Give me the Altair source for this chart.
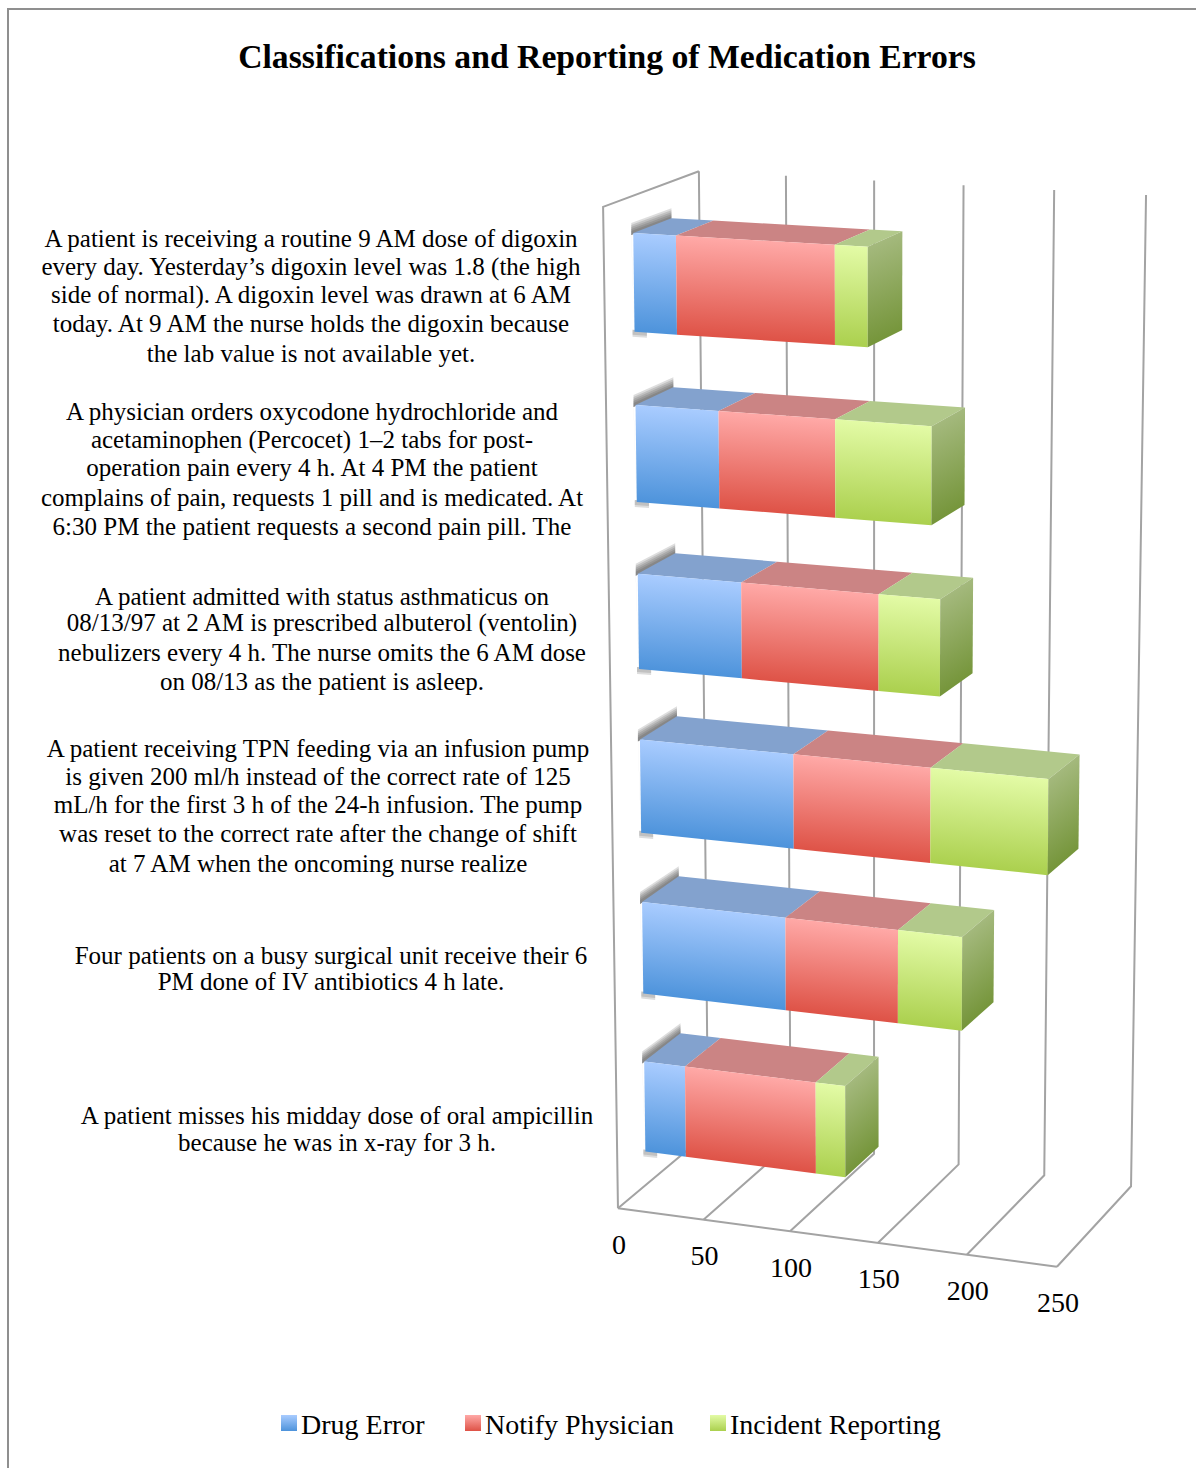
import altair as alt
import numpy as np
import pandas as pd

W, H = 1196, 1468
FONT = "Liberation Serif"

# Series values, in the order the bars run from the top of the chart downwards
DRUG_ERROR = [24, 47, 59, 88, 83, 24]
NOTIFY_PHYSICIAN = [88, 65, 77, 77, 64, 76]
INCIDENT_REPORTING = [18, 53, 34, 65, 36, 17]
SERIES_NAMES = ["Drug Error", "Notify Physician", "Incident Reporting"]
TICKS = [0, 50, 100, 150, 200, 250]

CATEGORY_LINES = [
    ["A patient is receiving a routine 9 AM dose of digoxin",
     "every day. Yesterday\u2019s digoxin level was 1.8 (the high",
     "side of normal). A digoxin level was drawn at 6 AM",
     "today. At 9 AM the nurse holds the digoxin because",
     "the lab value is not available yet."],
    ["A physician orders oxycodone hydrochloride and",
     "acetaminophen (Percocet) 1\u20132 tabs for post-",
     "operation pain every 4 h. At 4 PM the patient",
     "complains of pain, requests 1 pill and is medicated. At",
     "6:30 PM the patient requests a second pain pill. The"],
    ["A patient admitted with status asthmaticus on",
     "08/13/97 at 2 AM is prescribed albuterol (ventolin)",
     "nebulizers every 4 h. The nurse omits the 6 AM dose",
     "on 08/13 as the patient is asleep."],
    ["A patient receiving TPN feeding via an infusion pump",
     "is given 200 ml/h instead of the correct rate of 125",
     "mL/h for the first 3 h of the 24-h infusion. The pump",
     "was reset to the correct rate after the change of shift",
     "at 7 AM when the oncoming nurse realize"],
    ["Four patients on a busy surgical unit receive their 6",
     "PM done of IV antibiotics 4 h late."],
    ["A patient misses his midday dose of oral ampicillin",
     "because he was in x-ray for 3 h."],
]

# Layout of the category text: centre x and the y of every line
LABEL_CENTRES = [311, 312, 322, 318, 331, 337]
LABEL_ROWS = [
    [239, 267, 295, 324, 354],
    [412, 440, 468, 498, 527],
    [597, 623, 653, 682],
    [749, 777, 805, 834, 864],
    [956, 982],
    [1116, 1143],
]

# Screen positions of the chart box corners: (value, category height, depth) -> (px, py)
BOX_CORNERS = [
    ((0, 0, 0), (618, 1207)),
    ((250, 0, 0), (1057, 1268)),
    ((250, 0, 1), (1131, 1185)),
    ((0, 0, 1), (708, 1134)),
    ((0, 6, 0), (603, 207)),
    ((0, 6, 1), (699, 171)),
    ((250, 6, 1), (1146, 195)),
]


def fit_camera(corners):
    rows, rhs = [], []
    for (v, c, d), (px, py) in corners:
        rows.append([v, c, d, 1, 0, 0, 0, 0, -px * v, -px * c, -px * d])
        rhs.append(px)
        rows.append([0, 0, 0, 0, v, c, d, 1, -py * v, -py * c, -py * d])
        rhs.append(py)
    sol = np.linalg.lstsq(np.array(rows, float), np.array(rhs, float), rcond=None)[0]
    return np.append(sol, 1.0).reshape(3, 4)


CAMERA = fit_camera(BOX_CORNERS)


def project(v, c, d):
    px, py, w = CAMERA @ np.array([v, c, d, 1.0])
    return px / w, py / w


X = alt.X("x:Q", scale=alt.Scale(domain=[0, W], range=[0, W], nice=False, zero=False), axis=None)
Y = alt.Y("y:Q", scale=alt.Scale(domain=[0, H], range=[0, H], nice=False, zero=False), axis=None)


def frame(points):
    return pd.DataFrame([{"x": p[0], "y": p[1], "k": i} for i, p in enumerate(points)])


def tilted_gradient(points, stops):
    """Vertical gradient whose bands run parallel to the slanted top edge of a quad."""
    ys = [p[1] for p in points]
    top_left, top_right = points[0], points[1]
    t = abs(top_right[1] - top_left[1]) / (max(ys) - min(ys))
    k = (1 - t) / (1 + t * t)
    if top_right[1] >= top_left[1]:
        x1, y1, x2, y2 = 0, 0, -t * k, k
    else:
        x1, y1, x2, y2 = 1, 0, 1 + t * k, k
    return {
        "gradient": "linear", "x1": x1, "y1": y1, "x2": x2, "y2": y2,
        "stops": [{"offset": o, "color": col} for o, col in stops],
    }


def polygon(points, fill):
    return alt.Chart(frame(points)).mark_line(
        fill=fill, stroke="transparent", strokeWidth=0
    ).encode(x=X, y=Y, order="k:Q")


def stroke_path(points, color="#a3a3a3", width=2, opacity=1):
    return alt.Chart(frame(points)).mark_line(
        stroke=color, strokeWidth=width, strokeOpacity=opacity
    ).encode(x=X, y=Y, order="k:Q")


def soft_band(a, b, rises, drop=2, bleed=2):
    # overlapping translucent quads give the shadow its soft falloff
    return [
        polygon([(a[0] - bleed, a[1] - r), (b[0], b[1] - r), (b[0], b[1] + drop), (a[0] - bleed, a[1] + drop)],
                "rgba(68,68,68,0.18)")
        for r in rises
    ]


FRONT = [
    [(0, "#a9ccff"), (1, "#4d93db")],
    [(0, "#ffa9a7"), (1, "#de5246")],
    [(0, "#e3fba6"), (1, "#abd04e")],
]
TOP = ["#83a2ce", "#cb8484", "#b2c98b"]
SIDE = [(0, "#a4b97d"), (1, "#75953a")]

BAR_LOW, BAR_HIGH = 0.214, 0.786
DEPTH_NEAR, DEPTH_FAR = 0.3, 0.7

layers = []

# Chart box: back wall, floor and left wall
for v in TICKS:
    layers.append(stroke_path([project(v, 0, 0), project(v, 0, 1), project(v, 6, 1)]))
layers.append(stroke_path([project(0, 0, 0), project(250, 0, 0)]))
layers.append(stroke_path([project(0, 0, 0), project(0, 6, 0), project(0, 6, 1)]))

# Stacked bars, one block per row of the table
for row, parts in enumerate(zip(DRUG_ERROR, NOTIFY_PHYSICIAN, INCIDENT_REPORTING)):
    c0 = 5 - row + BAR_LOW
    c1 = 5 - row + BAR_HIGH

    # soft shadow along the left end of the block
    layers += soft_band(project(0, c1, DEPTH_NEAR), project(0, c1, DEPTH_FAR), [10, 8, 6, 4, 2])
    layers += soft_band(project(0, c0, DEPTH_NEAR), project(7, c0, DEPTH_NEAR), [2], drop=5)
    layers += soft_band(project(0, c0, DEPTH_NEAR), project(7, c0, DEPTH_NEAR), [2], drop=3)
    layers += soft_band(project(0, c1, DEPTH_NEAR), project(0, c0, DEPTH_NEAR), [0])

    start = 0
    for s, amount in enumerate(parts):
        end = start + amount
        layers.append(polygon(
            [project(start, c1, DEPTH_NEAR), project(end, c1, DEPTH_NEAR),
             project(end, c1, DEPTH_FAR), project(start, c1, DEPTH_FAR)], TOP[s]))
        face = [project(start, c1, DEPTH_NEAR), project(end, c1, DEPTH_NEAR),
                project(end, c0, DEPTH_NEAR), project(start, c0, DEPTH_NEAR)]
        layers.append(polygon(face, tilted_gradient(face, FRONT[s])))
        start = end
    side = [project(start, c1, DEPTH_NEAR), project(start, c1, DEPTH_FAR),
            project(start, c0, DEPTH_FAR), project(start, c0, DEPTH_NEAR)]
    layers.append(polygon(side, tilted_gradient(side, SIDE)))

# Value labels below the floor edge
tick_rows = []
for v in TICKS:
    px, py = project(v, 0, 0)
    tick_rows.append({"x": px + 1, "y": py + 37.5, "label": str(v)})
layers.append(alt.Chart(pd.DataFrame(tick_rows)).mark_text(
    font=FONT, fontSize=28, color="#000000", align="center", baseline="middle"
).encode(x=X, y=Y, text="label:N"))

# Category text
label_rows = []
for lines, cx, ys in zip(CATEGORY_LINES, LABEL_CENTRES, LABEL_ROWS):
    for line, y in zip(lines, ys):
        label_rows.append({"x": cx, "y": y, "label": line})
layers.append(alt.Chart(pd.DataFrame(label_rows)).mark_text(
    font=FONT, fontSize=25, color="#000000", align="center", baseline="middle"
).encode(x=X, y=Y, text="label:N"))

# Title
layers.append(alt.Chart(pd.DataFrame([{"x": 607, "y": 57.5, "label": "Classifications and Reporting of Medication Errors"}])).mark_text(
    font=FONT, fontSize=33.7, fontWeight="bold", color="#000000", align="center", baseline="middle"
).encode(x=X, y=Y, text="label:N"))

# Key under the chart
SWATCH_LEFT = [281, 465, 710]
for name, left, stops in zip(SERIES_NAMES, SWATCH_LEFT, FRONT):
    square = [(left, 1415), (left + 16, 1415), (left + 16, 1431), (left, 1431)]
    layers.append(polygon(square, tilted_gradient(square, stops)))
    layers.append(alt.Chart(pd.DataFrame([{"x": left + 20, "y": 1426, "label": name}])).mark_text(
        font=FONT, fontSize=28, color="#000000", align="left", baseline="middle"
    ).encode(x=X, y=Y, text="label:N"))

# Outer chart frame
layers.append(stroke_path([(8, H), (8, 9), (W, 9)], color="#8f8f8f", width=2))

chart = alt.layer(*layers).properties(
    width=W, height=H, padding=0, autosize=alt.AutoSizeParams(type="none"), background="white"
).configure_view(stroke=None)

chart.save("out.html", embed_options={"renderer": "svg", "actions": False})
